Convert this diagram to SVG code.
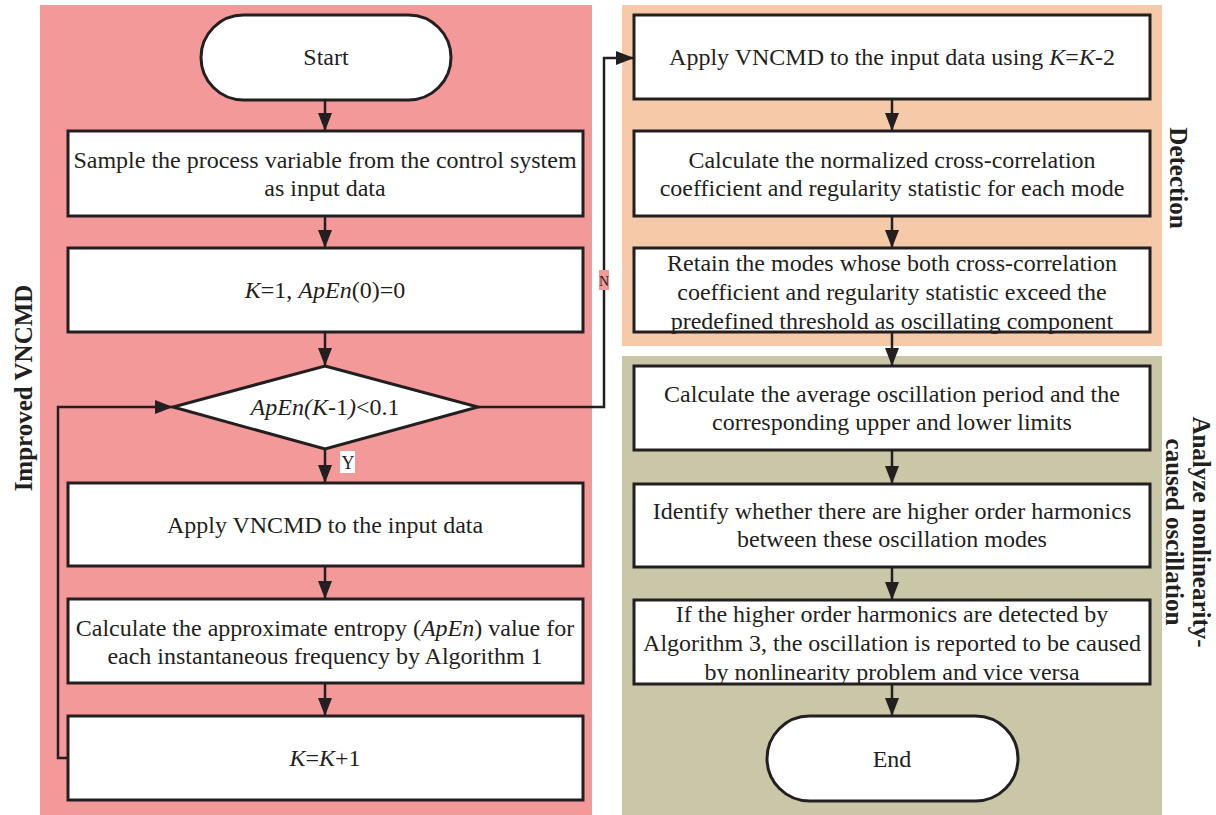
<svg xmlns="http://www.w3.org/2000/svg" width="1216" height="815" viewBox="0 0 1216 815">
<style>
.box{fill:#fff;stroke:#231f20;stroke-width:3}
.t{font-family:"Liberation Serif","Times New Roman",serif;font-size:24px;fill:#231f20;text-anchor:middle}
.i{font-style:italic}
.lab{font-family:"Liberation Serif","Times New Roman",serif;font-size:25px;font-weight:bold;fill:#231f20;text-anchor:middle}
.c{fill:none;stroke:#231f20;stroke-width:2.5}
</style>
<defs>
<marker id="ah" viewBox="0 0 18 14" refX="18" refY="7" markerWidth="18" markerHeight="14" markerUnits="userSpaceOnUse" orient="auto">
<path d="M0,0 L18,7 L0,14 Z" fill="#231f20"/>
</marker>
</defs>
<rect width="1216" height="815" fill="#fff"/>
<g id="panels">
<rect x="40" y="5" width="552" height="810" fill="#f4999a"/>
<rect x="622" y="5" width="540" height="341" fill="#f6caa9"/>
<rect x="622" y="356" width="540" height="459" fill="#c9c7a7"/>
<text class="lab" transform="translate(32,388) rotate(-90)">Improved VNCMD</text>
<text class="lab" transform="translate(1170,178) rotate(90)">Detection</text>
<text class="lab" transform="translate(1193,532) rotate(90)">Analyze nonlinearity-</text>
<text class="lab" transform="translate(1166,532) rotate(90)">caused oscillation</text>
</g>
<g id="connectors">
<line class="c" x1="325" y1="100" x2="325" y2="131" marker-end="url(#ah)"/>
<line class="c" x1="325" y1="216" x2="325" y2="248" marker-end="url(#ah)"/>
<line class="c" x1="325" y1="332" x2="325" y2="366" marker-end="url(#ah)"/>
<line class="c" x1="325" y1="449" x2="325" y2="483" marker-end="url(#ah)"/>
<line class="c" x1="325" y1="566" x2="325" y2="599" marker-end="url(#ah)"/>
<line class="c" x1="325" y1="683" x2="325" y2="716" marker-end="url(#ah)"/>
<polyline class="c" points="68,758 58,758 58,407 173,407" marker-end="url(#ah)"/>
<polyline class="c" points="478,407 604,407 604,58 634,58" marker-end="url(#ah)"/>
<rect x="599" y="270" width="10" height="20" fill="#f4999a"/>
<text class="t" x="604" y="286" style="font-size:14px">N</text>
<rect x="340" y="451" width="15" height="22" fill="#fff"/>
<text class="t" x="348" y="469" style="font-size:18px">Y</text>
<line class="c" x1="892" y1="99" x2="892" y2="131" marker-end="url(#ah)"/>
<line class="c" x1="892" y1="216" x2="892" y2="248" marker-end="url(#ah)"/>
<line class="c" x1="892" y1="332" x2="892" y2="366" marker-end="url(#ah)"/>
<line class="c" x1="892" y1="450" x2="892" y2="484" marker-end="url(#ah)"/>
<line class="c" x1="892" y1="567" x2="892" y2="600" marker-end="url(#ah)"/>
<line class="c" x1="892" y1="684" x2="892" y2="716" marker-end="url(#ah)"/>
</g>
<g id="start">
<rect class="box" x="201" y="15" width="250" height="85" rx="42.5"/>
<text class="t" x="326" y="65">Start</text>
</g>
<g id="sample">
<rect class="box" x="68" y="131" width="515" height="85"/>
<text class="t" x="325" y="168">Sample the process variable from the control system</text>
<text class="t" x="325" y="196">as input data</text>
</g>
<g id="init">
<rect class="box" x="68" y="248" width="515" height="84"/>
<text class="t" x="325" y="298"><tspan class="i">K</tspan>=1, <tspan class="i">ApEn</tspan>(0)=0</text>
</g>
<g id="decision">
<polygon class="box" points="325,366 478,407 325,449 173,407"/>
<text class="t" x="325" y="415"><tspan class="i">ApEn(K</tspan>-1<tspan class="i">)</tspan>&lt;0.1</text>
</g>
<g id="apply">
<rect class="box" x="68" y="483" width="515" height="83"/>
<text class="t" x="325" y="533">Apply VNCMD to the input data</text>
</g>
<g id="apen">
<rect class="box" x="68" y="599" width="515" height="84"/>
<text class="t" x="325" y="636">Calculate the approximate entropy (<tspan class="i">ApEn</tspan>) value for</text>
<text class="t" x="325" y="664">each instantaneous frequency by Algorithm 1</text>
</g>
<g id="incr">
<rect class="box" x="68" y="716" width="515" height="84"/>
<text class="t" x="325" y="766"><tspan class="i">K</tspan>=<tspan class="i">K</tspan>+1</text>
</g>
<g id="applyk2">
<rect class="box" x="634" y="15" width="516" height="84"/>
<text class="t" x="892" y="65">Apply VNCMD to the input data using <tspan class="i">K</tspan>=<tspan class="i">K</tspan>-2</text>
</g>
<g id="xcorr">
<rect class="box" x="634" y="131" width="516" height="85"/>
<text class="t" x="892" y="168">Calculate the normalized cross-correlation</text>
<text class="t" x="892" y="196">coefficient and regularity statistic for each mode</text>
</g>
<g id="retain">
<rect class="box" x="634" y="248" width="516" height="84"/>
<text class="t" x="892" y="271">Retain the modes whose both cross-correlation</text>
<text class="t" x="892" y="300">coefficient and regularity statistic exceed the</text>
<text class="t" x="892" y="329">predefined threshold as oscillating component</text>
</g>
<g id="period">
<rect class="box" x="634" y="366" width="516" height="84"/>
<text class="t" x="892" y="402">Calculate the average oscillation period and the</text>
<text class="t" x="892" y="430">corresponding upper and lower limits</text>
</g>
<g id="harmonics">
<rect class="box" x="634" y="484" width="516" height="83"/>
<text class="t" x="892" y="519">Identify whether there are higher order harmonics</text>
<text class="t" x="892" y="547">between these oscillation modes</text>
</g>
<g id="report">
<rect class="box" x="634" y="600" width="516" height="84"/>
<text class="t" x="892" y="622">If the higher order harmonics are detected by</text>
<text class="t" x="892" y="651">Algorithm 3, the oscillation is reported to be caused</text>
<text class="t" x="892" y="680">by nonlinearity problem and vice versa</text>
</g>
<g id="end">
<rect class="box" x="767" y="716" width="251" height="85" rx="42.5"/>
<text class="t" x="892" y="767">End</text>
</g>
</svg>
